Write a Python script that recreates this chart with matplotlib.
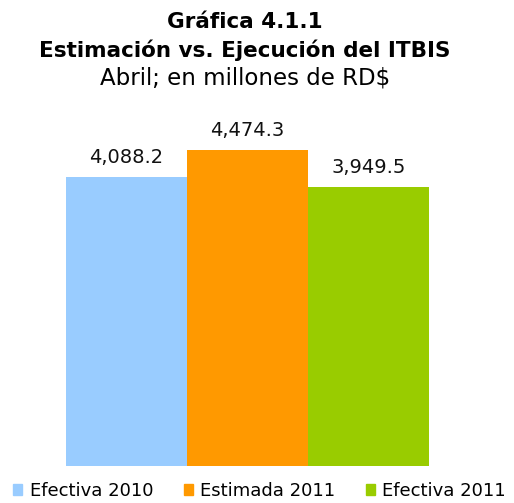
import matplotlib.pyplot as plt
from matplotlib.patches import Patch

categories = ["Efectiva 2010", "Estimada 2011", "Efectiva 2011"]
values = [4088.2, 4474.3, 3949.5]
colors = ["#99ccff", "#ff9900", "#99cc00"]

W, H = 514, 503
fig = plt.figure(figsize=(W / 100, H / 100), dpi=100)
ax = fig.add_axes([66 / W, 37 / H, 363 / W, 353 / H])

x = range(len(values))
ax.bar(x, values, width=1.0, color=colors)
ax.set_xlim(-0.5, 2.5)
ax.set_ylim(0, 5000)
ax.axis("off")

# value labels above each bar
for xi, v in zip(x, values):
    ax.text(xi, v + 200, f"{v:,.1f}", ha="center", va="baseline", fontsize=14, color="#111111")

# title block
cx = 245 / W
fig.text(cx, 1 - 28 / H, "Gráfica 4.1.1", ha="center", va="baseline", fontsize=15.5, fontweight="bold")
fig.text(cx, 1 - 57 / H, "Estimación vs. Ejecución del ITBIS", ha="center", va="baseline",
         fontsize=15.5, fontweight="bold")
fig.text(cx, 1 - 85 / H, "Abril; en millones de RD$", ha="center", va="baseline", fontsize=16.5)

handles = [Patch(color=c) for c in colors]
fig.legend(handles, categories, loc="center", bbox_to_anchor=(0.505, 12 / H), ncol=3,
           frameon=False, fontsize=13, handlelength=0.5, handleheight=0.6,
           handletextpad=0.4, columnspacing=1.7, borderpad=0, borderaxespad=0)

fig.savefig("out.png", dpi=100)
